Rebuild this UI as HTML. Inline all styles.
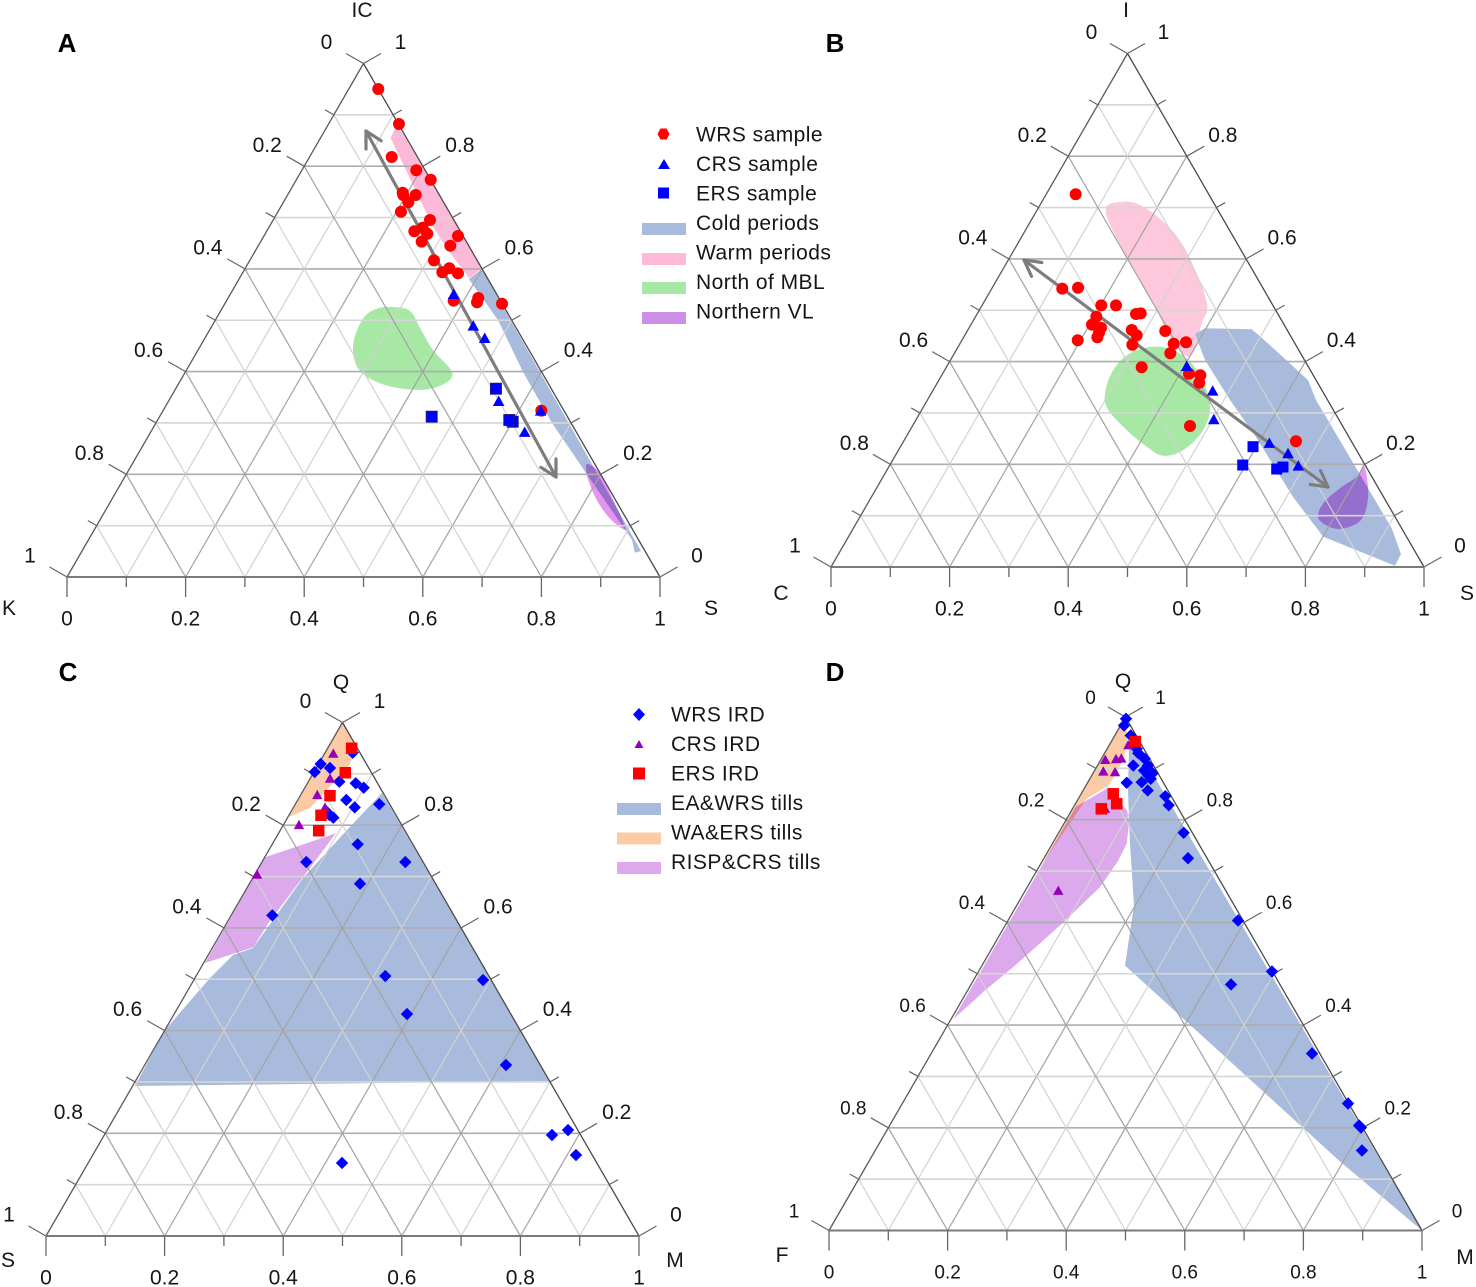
<!DOCTYPE html>
<html lang="en">
<head>
<meta charset="utf-8">
<title>Ternary diagrams of sediment composition</title>
<style>
  html, body { margin: 0; padding: 0; background: #fff; }
  svg { display: block; font-family: "Liberation Sans", sans-serif; }
  text { fill: #161616; }
  .title { font-size: 21px; text-anchor: middle; }
  .legend { font-size: 21px; letter-spacing: .45px; }
  .letter { font-size: 26px; font-weight: bold; text-anchor: middle; fill: #000; }
</style>
</head>
<body>
<svg id="figure" xmlns="http://www.w3.org/2000/svg" width="1476" height="1287" viewBox="0 0 1476 1287">
  <g id="panel-a">
    <text class="letter" x="67" y="52">A</text>
    <text class="title" x="362" y="17">IC</text>
    <text class="title" x="9" y="615">K</text>
    <text class="title" x="711" y="615">S</text>
  </g>
  <g id="panel-b">
    <text class="letter" x="835" y="52">B</text>
    <text class="title" x="1126" y="17">I</text>
    <text class="title" x="781" y="600">C</text>
    <text class="title" x="1467" y="600">S</text>
  </g>
  <g id="panel-c">
    <text class="letter" x="68" y="681">C</text>
    <text class="title" x="341" y="689">Q</text>
    <text class="title" x="8" y="1267">S</text>
    <text class="title" x="675" y="1267">M</text>
  </g>
  <g id="panel-d">
    <text class="letter" x="835" y="681">D</text>
    <text class="title" x="1123" y="688">Q</text>
    <text class="title" x="782" y="1262">F</text>
    <text class="title" x="1465" y="1264">M</text>
  </g>

  <g id="legend-top">
    <polygon points="660.5,128.5 666.5,128.5 669.5,134 666.5,139.5 660.5,139.5 657.5,134" fill="#ff0000"/>
    <polygon points="658,169 664,159 670,169" fill="#0000ff"/>
    <rect x="658" y="187.5" width="11" height="11" fill="#0000ff"/>
    <rect x="642" y="223" width="44" height="12" fill="#a9bbdc"/>
    <rect x="642" y="253" width="44" height="12" fill="#ffb9d9"/>
    <rect x="642" y="282" width="44" height="12" fill="#a8e8a6"/>
    <rect x="642" y="312" width="44" height="12" fill="#cc8fe6"/>
    <text class="legend" x="696" y="141.5">WRS sample</text>
    <text class="legend" x="696" y="171">CRS sample</text>
    <text class="legend" x="696" y="200.5">ERS sample</text>
    <text class="legend" x="696" y="230">Cold periods</text>
    <text class="legend" x="696" y="259.5">Warm periods</text>
    <text class="legend" x="696" y="289">North of MBL</text>
    <text class="legend" x="696" y="318.5">Northern VL</text>
  </g>

  <g id="legend-bottom">
    <polygon points="639,708 645,714.5 639,721 633,714.5" fill="#0000ff"/>
    <polygon points="634.5,748 639,740 643.5,748" fill="#9400b8"/>
    <rect x="633" y="767.5" width="12" height="12" fill="#ff0000"/>
    <rect x="617" y="803" width="44" height="12" fill="#a9bbdc"/>
    <rect x="617" y="832.5" width="44" height="12" fill="#fdcaa6"/>
    <rect x="617" y="862" width="44" height="12" fill="#dcaaec"/>
    <text class="legend" x="671" y="721.5">WRS IRD</text>
    <text class="legend" x="671" y="751">CRS IRD</text>
    <text class="legend" x="671" y="780.5">ERS IRD</text>
    <text class="legend" x="671" y="810">EA&amp;WRS tills</text>
    <text class="legend" x="671" y="839.5">WA&amp;ERS tills</text>
    <text class="legend" x="671" y="869">RISP&amp;CRS tills</text>
  </g>
</svg>

<script>
// All compositions are [bottom-axis fraction, top-apex fraction].
const tickValues = [0, 0.2, 0.4, 0.6, 0.8, 1];
const tickLabels = ['0', '0.2', '0.4', '0.6', '0.8', '1'];
const gridFractions = [0.1, 0.2, 0.3, 0.4, 0.5, 0.6, 0.7, 0.8, 0.9];

// Panel A (S, IC)
const panelAWrs = [[.0498,.9503],[.1187,.8822],[.1386,.8179],[.1930,.7920],[.2265,.7737],[.1919,.7484],[.1951,.7439],[.2161,.7439],[.2107,.7297],[.2075,.7114],[.2645,.6952],[.2491,.6732],[.2597,.6802],[.2733,.6685],[.2716,.6530],[.3273,.6641],[.3238,.6452],[.3105,.6167],[.3362,.5934],[.3441,.6012],[.3636,.5914],[.3830,.5381],[.4219,.5433],[.4239,.5350],[.4675,.5322],[.6379,.3239]];
const panelACrs = [[.3765,.5511],[.4404,.4894],[.4717,.4654],[.5566,.3427],[.6368,.3239],[.6306,.2824]];
const panelAErs = [[.6004,.3024],[.5400,.3667],[.4589,.3122],[.5930,.3057]];
const panelACold = [[.3994,.5998],[.9427,.0506],[.9341,.0473],[.9167,.0721],[.7739,.2025],[.6679,.2999],[.5694,.3992],[.4766,.5005],[.3880,.5797]];
const panelAWarm = [[.1162,.8738],[.1308,.8672],[.2029,.7959],[.3128,.6888],[.3987,.6012],[.3876,.5817],[.3202,.6401],[.2766,.6822],[.2343,.7277],[.1841,.7829],[.1187,.8543]];
const panelANorthMbl = [[.2868,.5258],[.3194,.5180],[.3528,.4849],[.3961,.4421],[.4496,.3992],[.4478,.3758],[.4132,.3642],[.3493,.3739],[.2935,.4012],[.2583,.4479],[.2472,.5005],[.2601,.5219]];
const panelANorthernVl = [[.7690,.2201],[.7978,.2019],[.8462,.1500],[.8920,.0980],[.8880,.0948],[.8541,.1174],[.8183,.1500],[.7846,.1889],[.7693,.2117]];
const panelATrend = [[.0699,.8685],[.7273,.1947]];

// Panel B (S, I)
const panelBWrs = [[.0497,.7258],[.1190,.5420],[.1446,.5439],[.2010,.5096],[.2258,.5096],[.2680,.4927],[.2753,.4940],[.2037,.4874],[.2042,.4719],[.2223,.4660],[.2238,.4563],[.2255,.4473],[.1953,.4415],[.2764,.4615],[.2899,.4512],[.2917,.4329],[.3339,.4596],[.3605,.4348],[.3641,.4162],[.3799,.4376],[.3295,.3889],[.4155,.3764],[.4362,.3733],[.4416,.3589],[.4681,.2746],[.6617,.2448]];
const panelBCrs = [[.4041,.3914],[.4720,.3433],[.5017,.2876],[.6184,.2415],[.6600,.2214],[.6894,.1973]];
const panelBErs = [[.5945,.2343],[.5950,.1986],[.6562,.1908],[.6648,.1947]];
const panelBCold = [[.3870,.4537],[.3983,.4648],[.4780,.4629],[.5038,.4460],[.6223,.3642],[.6553,.3252],[.9078,.0754],[.9485,.0253],[.9498,.0025],[.8007,.0590],[.7109,.1363],[.5901,.2532],[.5102,.3252],[.4291,.4031]];
const panelBWarm = [[.1173,.6919],[.1372,.7114],[.1758,.7016],[.2331,.6660],[.2928,.6140],[.3752,.5166],[.3878,.4746],[.4006,.4095],[.3474,.4485],[.2868,.5135],[.2085,.5914]];
const panelBNorthMbl = [[.3290,.4290],[.3733,.4193],[.4249,.3836],[.4797,.3188],[.4944,.2668],[.4802,.2278],[.4520,.2167],[.4152,.2343],[.3653,.2668],[.3148,.3057],[.2929,.3383],[.2842,.3836],[.2961,.4162]];
const panelBNorthernVl = [[.8005,.1967],[.8343,.1435],[.8486,.0980],[.8360,.0785],[.8093,.0754],[.7744,.0948],[.7681,.1241],[.7816,.1533],[.7985,.1759]];
const panelBTrend = [[.0265,.5979],[.7602,.1558]];

// Panel C (M, Q)
const panelCWrs = [[.0466,.9412],[.0036,.9192],[.0232,.9114],[.0013,.9036],[.0523,.8847],[.0815,.8816],[.0993,.8730],[.0819,.8491],[.1032,.8348],[.1417,.8407],[.0602,.8263],[.0678,.8199],[.0772,.8146],[.1442,.7628],[.2418,.7283],[.0748,.7283],[.1865,.6861],[.0694,.6245],[.3190,.5063],[.3926,.4323],[.4877,.4985],[.6092,.3330],[.7549,.1967],[.7771,.2064],[.8149,.1577],[.4281,.1422]];
const panelCCrs = [[.0145,.9400],[.0333,.8913],[.0278,.8594],[.0531,.8348],[.0261,.8010],[.0036,.7044]];
const panelCErs = [[.0406,.9498],[.0536,.9022],[.0502,.8574],[.0541,.8193],[.0652,.7893]];
const panelCEaWrs = [[.1353,.8627],[.6990,.3018],[.0040,.2921],[.0001,.4012],[.0254,.5024],[.0417,.5472],[.0687,.5608],[.0848,.6972],[.1123,.7906]];
const panelCWaErs = [[0,1],[.0476,.9503],[.0530,.9192],[.0464,.8919],[.0285,.8335],[.0018,.8160]];
const panelCRispCrs = [[.0969,.7842],[.0006,.7375],[.0023,.5316],[.0685,.5622],[.0704,.6090],[.0840,.6997]];

// Panel D (M, Q)
const panelDWrs = [[.0026,.9965],[.0058,.9834],[.0268,.9640],[.0499,.9381],[.0569,.9295],[.0731,.9186],[.0604,.9055],[.0852,.9055],[.0833,.8958],[.1006,.8906],[.0954,.8861],[.0661,.8719],[.0908,.8730],[.1027,.8797],[.1090,.8569],[.1442,.8458],[.1587,.8282],[.2109,.7745],[.2429,.7250],[.3879,.6037],[.4948,.5044],[.4384,.4791],[.6422,.3447],[.7516,.2473],[.7916,.2045],[.7968,.2006],[.8209,.1558]];
const panelDCrs = [[.0073,.9172],[.0247,.9186],[.0330,.9198],[.0154,.8944],[.0357,.8933],[.0318,.9459],[.0556,.6621],[.0545,.8218]];
const panelDErs = [[.0404,.9523],[.0542,.8504],[.0697,.8310],[.0486,.8212]];
const panelDEaWrs = [[.0256,.9640],[1,0],[.7945,.1344],[.5629,.2941],[.2411,.5161],[.1979,.6329],[.1308,.7536],[.0758,.8569],[.0385,.9348]];
const panelDWaErs = [[0,1],[.0320,.9445],[.0402,.8900],[.0377,.8666],[.0139,.8413],[.0020,.7075]];
const panelDRispCrs = [[.0400,.8621],[.0936,.8179],[.1072,.7984],[.1254,.7531],[.1276,.7205],[.1227,.6685],[.0925,.5940],[.0556,.5161],[.0294,.4674],[.0036,.4109],[.0037,.8257],[.0195,.8413]];

const SVG_NS = 'http://www.w3.org/2000/svg';
const SIDE = 593;
const HEIGHT = 513.5;

function axes(x0, y0) {
  return {
    x: (s, t) => x0 + SIDE * (s + t / 2),
    y: (s, t) => y0 - HEIGHT * t
  };
}

function make(parent, tag, attrs) {
  const node = document.createElementNS(SVG_NS, tag);
  Object.keys(attrs).forEach(k => node.setAttribute(k, attrs[k]));
  parent.appendChild(node);
  return node;
}

function seg(parent, ax, a, b, stroke, width) {
  return make(parent, 'line', {
    x1: ax.x(a[0], a[1]), y1: ax.y(a[0], a[1]),
    x2: ax.x(b[0], b[1]), y2: ax.y(b[0], b[1]),
    stroke: stroke, 'stroke-width': width
  });
}

function polyPath(ax, points) {
  return points.map((p, i) => (i ? 'L' : 'M') + ax.x(p[0], p[1]).toFixed(1) + ' ' + ax.y(p[0], p[1]).toFixed(1)).join(' ') + ' Z';
}

function smoothPath(ax, points) {
  const q = points.map(p => [ax.x(p[0], p[1]), ax.y(p[0], p[1])]);
  const n = q.length;
  let d = 'M' + q[0][0].toFixed(1) + ' ' + q[0][1].toFixed(1);
  for (let i = 0; i < n; i++) {
    const p0 = q[(i - 1 + n) % n], p1 = q[i], p2 = q[(i + 1) % n], p3 = q[(i + 2) % n];
    const c1x = p1[0] + (p2[0] - p0[0]) / 6, c1y = p1[1] + (p2[1] - p0[1]) / 6;
    const c2x = p2[0] - (p3[0] - p1[0]) / 6, c2y = p2[1] - (p3[1] - p1[1]) / 6;
    d += ' C' + c1x.toFixed(1) + ' ' + c1y.toFixed(1) + ' ' + c2x.toFixed(1) + ' ' + c2y.toFixed(1) + ' ' + p2[0].toFixed(1) + ' ' + p2[1].toFixed(1);
  }
  return d + ' Z';
}

function drawRegion(parent, ax, points, fill, smooth, blend, name) {
  const el = make(parent, 'path', { d: smooth ? smoothPath(ax, points) : polyPath(ax, points), fill: fill });
  if (blend) el.style.mixBlendMode = 'multiply';
  
  
}

function drawGrid(parent, ax) {
  const group = make(parent, 'g', {});
  
  
  gridFractions.forEach((f, i) => {
    const even = i % 2 === 1;
    const diag = even ? '#a2a2a2' : '#d2d2d2';
    const horiz = even ? '#adadad' : '#d6d6d6';
    const h = seg(group, ax, [0, f], [1 - f, f], horiz, 1.6);
    
    
    const a = seg(group, ax, [f, 0], [f, 1 - f], diag, 1.2);
    
    
    const b = seg(group, ax, [f, 0], [0, f], diag, 1.2);
    
    
  });
}

function drawFrame(parent, ax, tickFont, off) {
  const group = make(parent, 'g', {});
  
  
  const leftSide = seg(group, ax, [0, 0], [0, 1], '#5a5a5a', 1.3);
  
  
  const rightSide = seg(group, ax, [1, 0], [0, 1], '#4a4a4a', 1.3);
  
  
  const baseSide = seg(group, ax, [0, 0], [1, 0], '#7a7a7a', 2);
  
  

  for (let i = 0; i <= 10; i++) {
    const f = i / 10;
    const major = i % 2 === 0;
    const len = major ? 1 : 0.5;
    const bx = ax.x(f, 0), by = ax.y(f, 0);
    const t1 = make(group, 'line', { x1: bx, y1: by, x2: bx, y2: by + 20 * len, stroke: '#666', 'stroke-width': 1.3 });
    
    
    const lx = ax.x(0, f), ly = ax.y(0, f);
    const t2 = make(group, 'line', { x1: lx, y1: ly, x2: lx - 17.5 * len, y2: ly - 10 * len, stroke: '#666', 'stroke-width': 1.2 });
    
    
    const rx = ax.x(1 - f, f), ry = ax.y(1 - f, f);
    const t3 = make(group, 'line', { x1: rx, y1: ry, x2: rx + 17.5 * len, y2: ry - 10 * len, stroke: '#666', 'stroke-width': 1.2 });
    
    
  }

  tickValues.forEach((v, i) => {
    const base = make(group, 'text', { x: ax.x(v, 0), y: ax.y(v, 0) + 41 + tickFont * 0.36, 'font-size': tickFont, 'text-anchor': 'middle' });
    base.textContent = tickLabels[i];
    
    
    const leftTop = 1 - v;
    const left = make(group, 'text', { x: ax.x(0, leftTop) - off[0], y: ax.y(0, leftTop) - off[1] + tickFont * 0.36, 'font-size': tickFont, 'text-anchor': 'middle' });
    left.textContent = tickLabels[i];
    
    
    const right = make(group, 'text', { x: ax.x(1 - v, v) + off[0], y: ax.y(1 - v, v) - off[1] + tickFont * 0.36, 'font-size': tickFont, 'text-anchor': 'middle' });
    right.textContent = tickLabels[i];
    
    
  });
}

function drawTrend(parent, ax, ends) {
  const group = make(parent, 'g', { fill: 'none', stroke: '#7d7d7d', 'stroke-width': 3.2, 'stroke-linecap': 'round' });
  
  
  const a = [ax.x(ends[0][0], ends[0][1]), ax.y(ends[0][0], ends[0][1])];
  const b = [ax.x(ends[1][0], ends[1][1]), ax.y(ends[1][0], ends[1][1])];
  const angle = Math.atan2(b[1] - a[1], b[0] - a[0]);
  make(group, 'line', { x1: a[0], y1: a[1], x2: b[0], y2: b[1] });
  [[a, angle], [b, angle + Math.PI]].forEach(pair => {
    const tip = pair[0];
    [-0.5, 0.5].forEach(spread => {
      const dir = pair[1] + spread;
      make(group, 'line', { x1: tip[0], y1: tip[1], x2: tip[0] + 18 * Math.cos(dir), y2: tip[1] + 18 * Math.sin(dir) });
    });
  });
}

function drawDots(parent, ax, points, name) {
  points.forEach(p => {
    const x = ax.x(p[0], p[1]), y = ax.y(p[0], p[1]);
    const el = make(parent, 'circle', { cx: x, cy: y, r: 6, fill: '#ff0000' });
    
    
  });
}

function drawTriangles(parent, ax, points, fill, half, name) {
  points.forEach(p => {
    const x = ax.x(p[0], p[1]), y = ax.y(p[0], p[1]);
    const el = make(parent, 'polygon', {
      points: (x - half) + ',' + (y + half * 0.85) + ' ' + x + ',' + (y - half * 0.95) + ' ' + (x + half) + ',' + (y + half * 0.85),
      fill: fill
    });
    
    
  });
}

function drawSquares(parent, ax, points, fill, size, border, name) {
  points.forEach(p => {
    const x = ax.x(p[0], p[1]), y = ax.y(p[0], p[1]);
    const el = make(parent, 'rect', { x: x - size / 2, y: y - size / 2, width: size, height: size, fill: fill });
    if (border) {
      el.setAttribute('stroke', border);
      el.setAttribute('stroke-width', 0.9);
    }
    
    
  });
}

function drawDiamonds(parent, ax, points, name) {
  points.forEach(p => {
    const x = ax.x(p[0], p[1]), y = ax.y(p[0], p[1]);
    const el = make(parent, 'polygon', {
      points: x + ',' + (y - 6.2) + ' ' + (x + 6.2) + ',' + y + ' ' + x + ',' + (y + 6.2) + ' ' + (x - 6.2) + ',' + y,
      fill: '#0000ff'
    });
    
    
  });
}

const BLUE = '#a9bbdc', PINK_A = '#fdb9d9', PINK_B = '#fdc8dc', GREEN = '#a7e8a5', PURPLE = '#e296ee', ORANGE = '#fdcaa6', LILAC = '#dcaaec';

// Panel A
(function () {
  const g = document.getElementById('panel-a');
  const ax = axes(67, 577);
  drawRegion(g, ax, panelANorthMbl, GREEN, true, false, 'north-of-mbl-region');
  drawRegion(g, ax, panelACold, BLUE, false, false, 'cold-periods-region');
  drawRegion(g, ax, panelAWarm, PINK_A, false, false, 'warm-periods-region');
  drawRegion(g, ax, panelANorthernVl, PURPLE, true, true, 'northern-vl-region');
  drawGrid(g, ax);
  drawFrame(g, ax, 21, [37, 22]);
  drawTrend(g, ax, panelATrend);
  drawDots(g, ax, panelAWrs, 'wrs-sample-point');
  drawSquares(g, ax, panelAErs, '#0000ff', 11, '#1a1a70', 'ers-sample-point');
  drawTriangles(g, ax, panelACrs, '#0000ff', 5.8, 'crs-sample-point');
})();

// Panel B
(function () {
  const g = document.getElementById('panel-b');
  const ax = axes(831, 567);
  drawRegion(g, ax, panelBWarm, PINK_B, true, false, 'warm-periods-region');
  drawRegion(g, ax, panelBNorthMbl, GREEN, true, false, 'north-of-mbl-region');
  drawRegion(g, ax, panelBCold, BLUE, false, false, 'cold-periods-region');
  drawRegion(g, ax, panelBNorthernVl, PURPLE, true, true, 'northern-vl-region');
  drawGrid(g, ax);
  drawFrame(g, ax, 21, [36, 22]);
  drawTrend(g, ax, panelBTrend);
  drawDots(g, ax, panelBWrs, 'wrs-sample-point');
  drawSquares(g, ax, panelBErs, '#0000ff', 11, null, 'ers-sample-point');
  drawTriangles(g, ax, panelBCrs, '#0000ff', 5.8, 'crs-sample-point');
})();

// Panel C
(function () {
  const g = document.getElementById('panel-c');
  const ax = axes(46, 1236);
  drawRegion(g, ax, panelCEaWrs, BLUE, false, false, 'ea-wrs-tills-region');
  drawRegion(g, ax, panelCWaErs, ORANGE, false, false, 'wa-ers-tills-region');
  drawRegion(g, ax, panelCRispCrs, LILAC, false, true, 'risp-crs-tills-region');
  drawGrid(g, ax);
  drawFrame(g, ax, 21, [37, 22]);
  drawDiamonds(g, ax, panelCWrs, 'wrs-ird-point');
  drawTriangles(g, ax, panelCCrs, '#9400b8', 5.2, 'crs-ird-point');
  drawSquares(g, ax, panelCErs, '#ff0000', 11.5, null, 'ers-ird-point');
})();

// Panel D
(function () {
  const g = document.getElementById('panel-d');
  const ax = axes(829, 1230.5);
  drawRegion(g, ax, panelDEaWrs, BLUE, false, false, 'ea-wrs-tills-region');
  drawRegion(g, ax, panelDWaErs, ORANGE, false, false, 'wa-ers-tills-region');
  drawRegion(g, ax, panelDRispCrs, LILAC, false, true, 'risp-crs-tills-region');
  drawGrid(g, ax);
  drawFrame(g, ax, 19, [35, 20]);
  drawDiamonds(g, ax, panelDWrs, 'wrs-ird-point');
  drawTriangles(g, ax, panelDCrs, '#9400b8', 5.2, 'crs-ird-point');
  drawSquares(g, ax, panelDErs, '#ff0000', 11.5, null, 'ers-ird-point');
})();
</script>
</body>
</html>
